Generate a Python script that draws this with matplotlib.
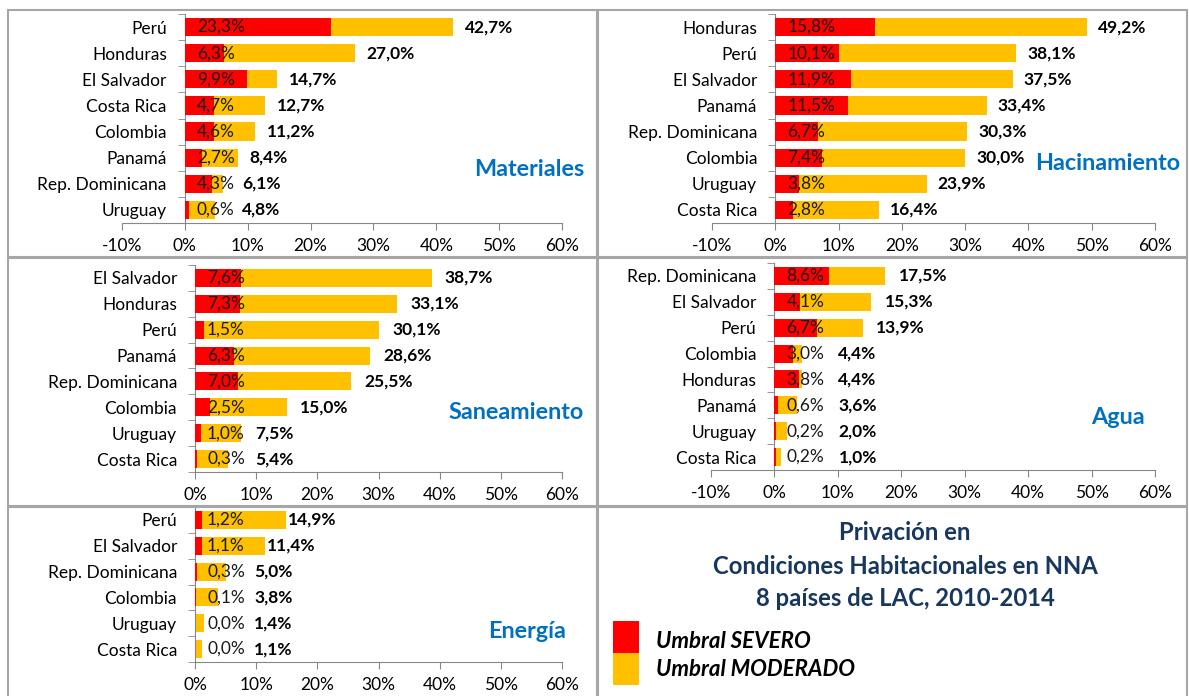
import matplotlib
matplotlib.use("Agg")
import matplotlib.pyplot as plt
from matplotlib.patches import Rectangle
import numpy as np

plt.rcParams['font.family'] = ['Lato', 'DejaVu Sans']

W, H = 1189, 696

# ---------------- data ----------------
mat_cats = ["Perú", "Honduras", "El Salvador", "Costa Rica", "Colombia", "Panamá", "Rep. Dominicana", "Uruguay"]
mat_sev = [23.3, 6.3, 9.9, 4.7, 4.6, 2.7, 4.3, 0.6]
mat_tot = [42.7, 27.0, 14.7, 12.7, 11.2, 8.4, 6.1, 4.8]

hac_cats = ["Honduras", "Perú", "El Salvador", "Panamá", "Rep. Dominicana", "Colombia", "Uruguay", "Costa Rica"]
hac_sev = [15.8, 10.1, 11.9, 11.5, 6.7, 7.4, 3.8, 2.8]
hac_tot = [49.2, 38.1, 37.5, 33.4, 30.3, 30.0, 23.9, 16.4]

san_cats = ["El Salvador", "Honduras", "Perú", "Panamá", "Rep. Dominicana", "Colombia", "Uruguay", "Costa Rica"]
san_sev = [7.6, 7.3, 1.5, 6.3, 7.0, 2.5, 1.0, 0.3]
san_tot = [38.7, 33.1, 30.1, 28.6, 25.5, 15.0, 7.5, 5.4]

agu_cats = ["Rep. Dominicana", "El Salvador", "Perú", "Colombia", "Honduras", "Panamá", "Uruguay", "Costa Rica"]
agu_sev = [8.6, 4.1, 6.7, 3.0, 3.8, 0.6, 0.2, 0.2]
agu_tot = [17.5, 15.3, 13.9, 4.4, 4.4, 3.6, 2.0, 1.0]

ene_cats = ["Perú", "El Salvador", "Rep. Dominicana", "Colombia", "Uruguay", "Costa Rica"]
ene_sev = [1.2, 1.1, 0.3, 0.1, 0.0, 0.0]
ene_tot = [14.9, 11.4, 5.0, 3.8, 1.4, 1.1]

x_ticks = [-10, 0, 10, 20, 30, 40, 50, 60]

panel_titles = ["Materiales", "Hacinamiento", "Saneamiento", "Agua", "Energía"]
chart_title = ["Privación en", "Condiciones Habitacionales en NNA", "8 países de LAC, 2010-2014"]
legend_labels = ["Umbral SEVERO", "Umbral MODERADO"]

# ---------------- style ----------------
RED = "#FF0000"
YEL = "#FFC000"
BLUE = "#0070C0"
NAVY = "#17375E"
AXC = "#868686"
FS = 12.5

fig = plt.figure(figsize=(W / 100, H / 100), dpi=100)


def rect(x0, y0, x1, y1):
    return [x0 / W, 1 - y1 / H, (x1 - x0) / W, (y1 - y0) / H]


def panel(cats, sev, tot, title, xmin, box, title_xy, gap_px, min_px):
    x0, y0, x1, y1 = box
    ax = fig.add_axes(rect(x0, y0, x1, y1))
    n = len(cats)
    ypos = np.arange(n)
    ax.barh(ypos, tot, height=0.7, color=YEL, zorder=2)
    ax.barh(ypos, sev, height=0.7, color=RED, zorder=3)
    ax.set_xlim(xmin, 60)
    ax.set_ylim(n - 0.5, -0.5)
    ppu = (x1 - x0) / (60 - xmin)
    for i in range(n):
        ax.text(12 / ppu, i, f"{sev[i]:.1f}%".replace(".", ","), ha="left", va="center",
                fontsize=FS, color="#1a1a1a", zorder=4)
        xt = max(tot[i] + gap_px / ppu, min_px / ppu)
        ax.text(xt, i, f"{tot[i]:.1f}%".replace(".", ","), ha="left", va="center",
                fontsize=FS, fontweight="bold", color="black", zorder=4)
    for s in ["top", "right"]:
        ax.spines[s].set_visible(False)
    ax.spines["left"].set_position(("data", 0))
    ax.spines["left"].set_color(AXC)
    ax.spines["bottom"].set_color(AXC)
    ax.set_yticks(ypos)
    ax.set_yticklabels(cats, fontsize=FS)
    ax.set_yticks(np.arange(n + 1) - 0.5, minor=True)
    ax.tick_params(axis="y", which="major", length=0, pad=13)
    ax.tick_params(axis="y", which="minor", length=5, color=AXC, direction="out")
    ticks = [t for t in x_ticks if t >= xmin]
    ax.set_xticks(ticks)
    ax.set_xticklabels([f"{t}%" for t in ticks], fontsize=FS)
    ax.tick_params(axis="x", length=5, color=AXC, pad=6)
    ax.patch.set_alpha(0)
    fig.text(title_xy[0] / W, 1 - title_xy[1] / H, title, ha="right", va="center",
             fontsize=16.8, fontweight="bold", color=BLUE)
    return ax


panel(mat_cats, mat_sev, mat_tot, panel_titles[0], -10, (122, 14, 562, 223), (584, 170), 12, 57)
panel(hac_cats, hac_sev, hac_tot, panel_titles[1], -10, (712, 14, 1155, 223), (1180, 163), 11, 57)
panel(san_cats, san_sev, san_tot, panel_titles[2], 0, (195, 265, 562, 472), (584, 413), 13, 60)
panel(agu_cats, agu_sev, agu_tot, panel_titles[3], -10, (711, 263, 1155, 470), (1145, 418), 13, 64)
panel(ene_cats, ene_sev, ene_tot, panel_titles[4], 0, (195, 507, 562, 662), (566, 631), 2, 59)

# panel borders
BC = "#A6A6A6"
for (bx0, by0, bx1, by1) in [(8, 10, 597, 257), (598, 10, 1187, 257), (8, 258, 597, 506),
                             (598, 258, 1187, 506), (8, 507, 597, 700), (598, 507, 1187, 700)]:
    fig.add_artist(Rectangle((bx0 / W, 1 - by1 / H), (bx1 - bx0) / W, (by1 - by0) / H,
                             transform=fig.transFigure, fill=False, edgecolor=BC, linewidth=1.5))

# title
for txt, yy in zip(chart_title, [533, 567, 598]):
    fig.text(905 / W, 1 - yy / H, txt, ha="center", va="center", fontsize=17.2,
             fontweight="bold", color=NAVY)

# legend
for col, (ly0, ly1) in zip([RED, YEL], [(621, 653), (653, 685)]):
    fig.add_artist(Rectangle((613 / W, 1 - ly1 / H), 26 / W, (ly1 - ly0) / H,
                             transform=fig.transFigure, color=col, linewidth=0))
legend_y = [642, 670]
for lab, yy in zip(legend_labels, legend_y):
    fig.text(656 / W, 1 - yy / H, lab, ha="left", va="center", fontsize=16,
             fontweight="bold", fontstyle="italic", color="black")

fig.savefig("out.png", dpi=100)
